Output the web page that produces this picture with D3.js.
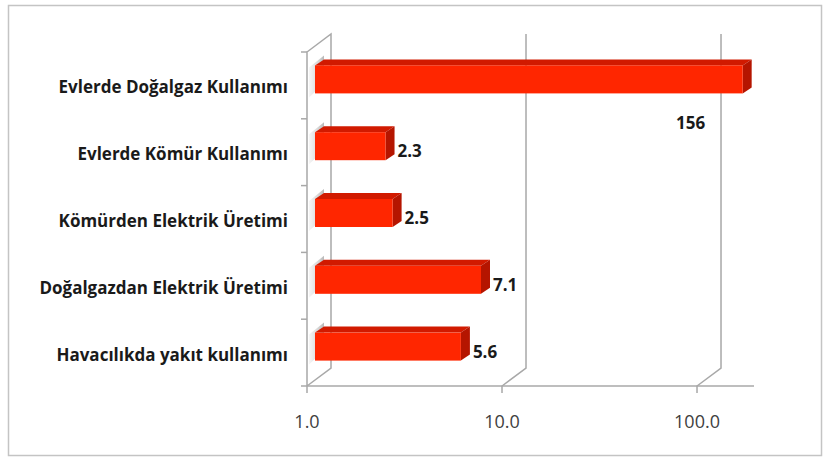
<!DOCTYPE html>
<html>
<head>
<meta charset="utf-8">
<script src="https://cdn.jsdelivr.net/npm/d3@7"></script>
<style>
  body { margin: 0; background: #fff; }
  svg { display: block; }
</style>
</head>
<body>
<div id="chart"></div>
<script>
var chart_width = 823;
var chart_height = 457;

// data
var categories = [
  'Evlerde Doğalgaz Kullanımı',
  'Evlerde Kömür Kullanımı',
  'Kömürden Elektrik Üretimi',
  'Doğalgazdan Elektrik Üretimi',
  'Havacılıkda yakıt kullanımı'
];
var values = [156, 2.3, 2.5, 7.1, 5.6];
var value_labels = ['156', '2.3', '2.5', '7.1', '5.6'];
var tick_values = [1, 10, 100];
var tick_labels = ['1.0', '10.0', '100.0'];

// 3d offsets
var wall_dx = 24, wall_dy = -18;
var bar_off_x = 8, bar_off_y = -6;
var bar_dx = 9, bar_dy = -6;
var bar_h = 28;
var line_col = '#a8a8a8';

var svg = d3.select('#chart')
  .append('svg')
  .attr('width', chart_width)
  .attr('height', chart_height);

// frame
svg.append('rect')
  .attr('x', 8.5).attr('y', 5.5)
  .attr('width', 813).attr('height', 450)
  .attr('fill', 'none')
  .attr('stroke', '#c4c4c4')
  .attr('stroke-width', 1.5);

var x_scale = d3.scaleLog()
  .domain([1, 196])
  .range([307, 754]);

var y_scale = d3.scaleBand()
  .domain(categories)
  .range([52, 386]);

var x0 = x_scale(1);
var y_bottom = y_scale.range()[1];
var y_top = y_scale.range()[0];

// floor front line
svg.append('line')
  .attr('x1', x0).attr('x2', x_scale.range()[1])
  .attr('y1', y_bottom).attr('y2', y_bottom)
  .attr('stroke', line_col).attr('stroke-width', 1.5);

// gridlines (back wall + floor diagonal + small tick)
tick_values.forEach(function(t, i) {
  var xf = x_scale(t);
  var pts = [[xf, y_bottom + 7], [xf, y_bottom], [xf + wall_dx, y_bottom + wall_dy], [xf + wall_dx, y_top + wall_dy]];
  if (i === 0) {
    // left wall outline
    pts = [[xf, y_bottom + 7], [xf, y_bottom], [xf + wall_dx, y_bottom + wall_dy], [xf + wall_dx, y_top + wall_dy], [xf, y_top], [xf, y_bottom]];
  }
  svg.append('path')
    .attr('d', d3.line()(pts))
    .attr('fill', 'none')
    .attr('stroke', line_col)
    .attr('stroke-width', 1.5);
});

// category ticks on left wall
var bounds = categories.map(function(c) { return y_scale(c); }).concat([y_bottom]);
svg.selectAll('.ctick')
  .data(bounds)
  .enter()
  .append('line')
  .attr('x1', x0 - 6).attr('x2', x0)
  .attr('y1', function(d) { return d; })
  .attr('y2', function(d) { return d; })
  .attr('stroke', line_col).attr('stroke-width', 1.5);

// wall shading next to bars
var defs = svg.append('defs');
var grad = defs.append('linearGradient')
  .attr('id', 'wallshade')
  .attr('x1', 0).attr('y1', 0).attr('x2', 1).attr('y2', 0);
grad.append('stop').attr('offset', 0).attr('stop-color', '#d0d0d0').attr('stop-opacity', 0.2);
grad.append('stop').attr('offset', 1).attr('stop-color', '#b0b0b0').attr('stop-opacity', 0.9);

var bar_data = categories.map(function(c, i) {
  return { cat: c, val: values[i], label: value_labels[i] };
});

svg.selectAll('.shade')
  .data(bar_data)
  .enter()
  .append('path')
  .attr('fill', 'url(#wallshade)')
  .attr('d', function(d) {
    var yc = y_scale(d.cat) + y_scale.bandwidth() / 2;
    var yt = yc + bar_off_y - bar_h / 2;
    var xa = x0 + 2, xb = x0 + bar_off_x;
    return d3.line()([[xa, yt + 2], [xb + bar_dx, yt + bar_dy - 4], [xb + bar_dx, yt + bar_h - 10], [xa, yt + bar_h + 4]]) + 'Z';
  });

// bars
var bars = svg.selectAll('.bar')
  .data(bar_data)
  .enter()
  .append('g')
  .attr('class', 'bar');

function geom(d) {
  var yc = y_scale(d.cat) + y_scale.bandwidth() / 2;
  return {
    xa: x0 + bar_off_x,
    xb: x_scale(d.val) + bar_off_x,
    yt: yc + bar_off_y - bar_h / 2,
    yb: yc + bar_off_y + bar_h / 2,
    yc: yc
  };
}

bars.append('path')
  .attr('fill', '#d11a00')
  .attr('d', function(d) {
    var g = geom(d);
    return d3.line()([[g.xa, g.yt], [g.xa + bar_dx, g.yt + bar_dy], [g.xb + bar_dx, g.yt + bar_dy], [g.xb, g.yt]]) + 'Z';
  });

bars.append('path')
  .attr('fill', '#b51500')
  .attr('d', function(d) {
    var g = geom(d);
    return d3.line()([[g.xb, g.yt], [g.xb + bar_dx, g.yt + bar_dy], [g.xb + bar_dx, g.yb + bar_dy], [g.xb, g.yb]]) + 'Z';
  });

bars.append('rect')
  .attr('fill', '#ff2600')
  .attr('x', function(d) { return geom(d).xa; })
  .attr('y', function(d) { return geom(d).yt; })
  .attr('width', function(d) { var g = geom(d); return g.xb - g.xa; })
  .attr('height', bar_h);

// value labels
svg.selectAll('.vlabel')
  .data(bar_data)
  .enter()
  .append('text')
  .text(function(d) { return d.label; })
  .attr('x', function(d) {
    var g = geom(d);
    return d.val > 100 ? g.xb - 52 : g.xb + bar_dx + 3;
  })
  .attr('y', function(d) {
    var g = geom(d);
    return d.val > 100 ? g.yb + 36 : g.yc + 5;
  })
  .attr('text-anchor', function(d) { return d.val > 100 ? 'middle' : 'start'; })
  .attr('font-family', 'Open Sans, sans-serif')
  .attr('font-weight', 'bold')
  .attr('font-size', 17)
  .attr('fill', '#1a1a1a');

// category labels
svg.selectAll('.clabel')
  .data(categories)
  .enter()
  .append('text')
  .text(function(d) { return d; })
  .attr('x', 288)
  .attr('y', function(d) { return y_scale(d) + y_scale.bandwidth() / 2 + 8; })
  .attr('text-anchor', 'end')
  .attr('font-family', 'Open Sans, sans-serif')
  .attr('font-weight', 'bold')
  .attr('font-size', 17)
  .attr('fill', '#1a1a1a');

// x tick labels
svg.selectAll('.xlabel')
  .data(tick_values)
  .enter()
  .append('text')
  .text(function(d, i) { return tick_labels[i]; })
  .attr('x', function(d) { return x_scale(d); })
  .attr('y', 428)
  .attr('text-anchor', 'middle')
  .attr('font-family', 'Open Sans, sans-serif')
  .attr('font-size', 18)
  .attr('fill', '#404040');
</script>
</body>
</html>
